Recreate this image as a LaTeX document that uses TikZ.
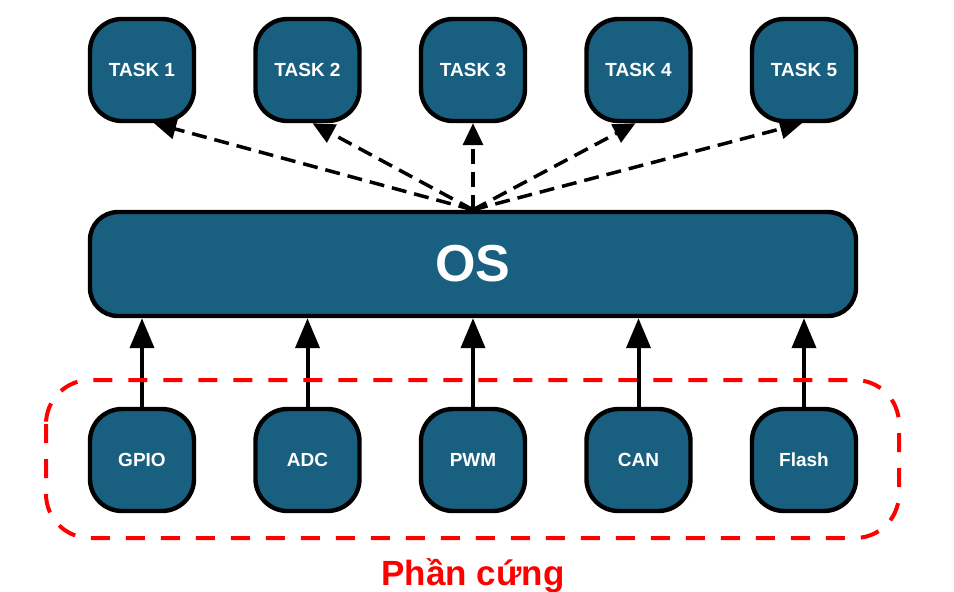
\documentclass[tikz,border=0pt]{standalone}
\usepackage{fontspec}
\setmainfont{Liberation Sans}
\usepackage{xcolor}
\usepackage{tikz}
\usetikzlibrary{arrows.meta, calc}
\definecolor{box-color}{RGB}{24,95,128}
\colorlet{hw-color}{red}
\tikzset{
    module/.style = {draw=black, line width=2.2pt, fill=box-color, rounded corners=16pt,
        minimum width=52pt, minimum height=51pt, inner sep=0pt,
        text=white, font=\bfseries\fontsize{9.5}{11}\selectfont},
    os/.style = {module, minimum width=383pt, minimum height=52pt, rounded corners=14pt,
        font=\bfseries\fontsize{26}{30}\selectfont},
    call/.style = {-{Triangle[length=11pt,width=10pt]}, line width=1.75pt, dash pattern=on 7.5pt off 4pt},
    feed/.style = {-{Triangle[length=15pt,width=12pt]}, line width=2pt},
    hw-group/.style = {draw=hw-color, line width=2pt, dash pattern=on 9.5pt off 8pt, rounded corners=22pt},
}

\begin{document}
\begin{tikzpicture}[x=0.5pt,y=-0.5pt]
    \useasboundingbox (0,0) rectangle (954,591);

    % tasks
    \node[module] (task1) at (142,70)   {TASK 1};
    \node[module] (task2) at (307.5,70) {TASK 2};
    \node[module] (task3) at (473,70)   {TASK 3};
    \node[module] (task4) at (638.5,70) {TASK 4};
    \node[module] (task5) at (804,70)   {TASK 5};

    \node[os] (os) at (473,264) {OS};

    % hardware
    \node[module] (gpio)  at (142,460)   {GPIO};
    \node[module] (adc)   at (307.5,460) {ADC};
    \node[module] (pwm)   at (473,460)   {PWM};
    \node[module] (can)   at (638.5,460) {CAN};
    \node[module] (flash) at (804,460)   {Flash};

    \draw[call] (os.north) -- ($(task1.south)+(12,0)$);
    \draw[call] (os.north) -- ($(task2.south)+(5,0)$);
    \draw[call] (os.north) -- (task3.south);
    \draw[call] (os.north) -- ($(task4.south)+(-3,0)$);
    \draw[call] (os.north) -- ($(task5.south)+(-2,0)$);

    \draw[feed] (gpio.north)  -- (gpio.north |- os.south);
    \draw[feed] (adc.north)   -- (adc.north |- os.south);
    \draw[feed] (pwm.north)   -- (pwm.north |- os.south);
    \draw[feed] (can.north)   -- (can.north |- os.south);
    \draw[feed] (flash.north) -- (flash.north |- os.south);

    \draw[hw-group] (46,380) rectangle (899,538);
    \node[anchor=base, text=hw-color, font=\bfseries\fontsize{17.5}{20}\selectfont] (hw-label) at (473,585) {Phần cứng};
\end{tikzpicture}
\end{document}
